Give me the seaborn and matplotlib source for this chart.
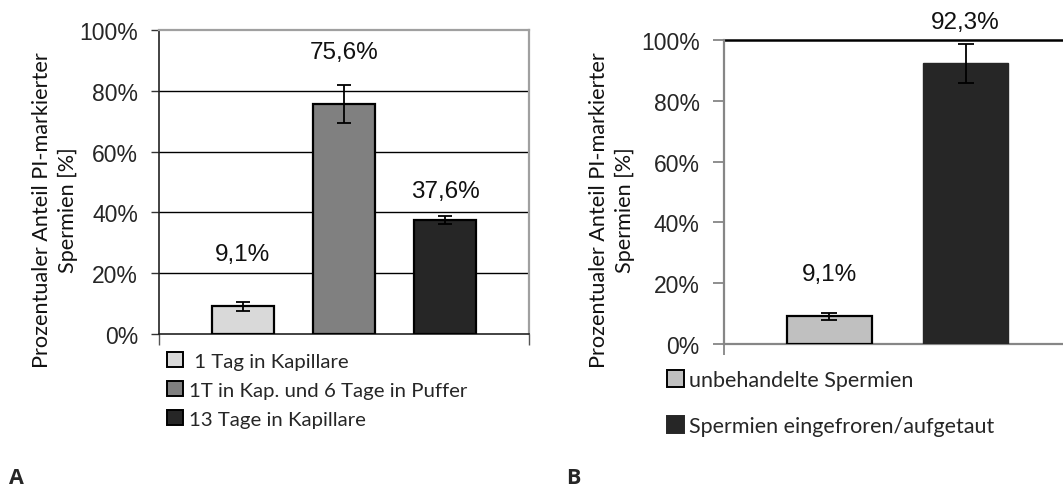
import matplotlib
matplotlib.use("Agg")
import matplotlib.pyplot as plt
import matplotlib.patches as mpatches
import seaborn as sns
import pandas as pd

# Panel A: storage conditions
cats_a = [" 1 Tag in Kapillare", "1T in Kap. und 6 Tage in Puffer", "13 Tage in Kapillare"]
vals_a = [9.1, 75.6, 37.6]
err_a = [1.5, 6.2, 1.3]
colors_a = ["#d9d9d9", "#808080", "#262626"]
lab_a = ["9,1%", "75,6%", "37,6%"]
lab_off_a = [15.3, 15.1, 7.6]

# Panel B: untreated vs. frozen/thawed
cats_b = ["unbehandelte Spermien", "Spermien eingefroren/aufgetaut"]
vals_b = [9.1, 92.3]
err_b = [1.2, 6.4]
colors_b = ["#c0c0c0", "#262626"]
lab_b = ["9,1%", "92,3%"]
lab_off_b = [12.1, 11.5]

yticks = [0, 20, 40, 60, 80, 100]
ylabel = "Prozentualer Anteil PI-markierter\nSpermien [%]"

sns.set_theme(style="white")
plt.rcParams["font.family"] = ["Liberation Sans", "DejaVu Sans"]
LABEL_FONT = ["Lato", "DejaVu Sans"]
W, H = 1063, 489
fig = plt.figure(figsize=(W / 100, H / 100), dpi=100)


def px_axes(l, t, r, b):
    return fig.add_axes([l / W, 1 - b / H, (r - l) / W, (b - t) / H])


def draw_panel(ax, cats, vals, errs, colors, labels, offs, width, gap, capsize):
    df = pd.DataFrame({"grp": ["x"] * len(cats), "cat": cats, "val": vals})
    sns.barplot(data=df, x="grp", y="val", hue="cat", hue_order=cats,
                palette=colors, width=width, gap=gap, errorbar=None,
                legend=False, ax=ax, saturation=1, zorder=3)
    bars = ax.patches[:len(cats)]
    xs = [p.get_x() + p.get_width() / 2 for p in bars]
    ax.errorbar(xs, vals, yerr=errs, fmt="none", ecolor="black",
                elinewidth=1.3, capsize=capsize, capthick=1.3, zorder=4)
    for x, v, e, t, o in zip(xs, vals, errs, labels, offs):
        ax.text(x, v + o, t, ha="center", va="baseline", fontsize=17.5,
                color="#111111", zorder=5, clip_on=False)
    ax.set_xlim(-0.5, 0.5)
    ax.set_ylim(0, 100)
    ax.set_yticks(yticks)
    ax.set_yticklabels([f"{t}%" for t in yticks])
    ax.set_xticks([-0.5, 0.5])
    ax.set_xticklabels(["", ""])
    ax.set_xlabel("")
    return bars


# ---- Panel A ----
ax_a = px_axes(159, 31, 529, 335)
bars_a = draw_panel(ax_a, cats_a, vals_a, err_a, colors_a, lab_a, lab_off_a,
                    0.819, 0.386, 5)
for p in bars_a:
    p.set_edgecolor("black")
    p.set_linewidth(1.6)
for y in [20, 40, 60, 80]:
    ax_a.axhline(y, color="black", lw=1.0, zorder=1)
for s in ["top", "right"]:
    ax_a.spines[s].set_color("#a0a0a0")
    ax_a.spines[s].set_linewidth(1.6)
for s in ["left", "bottom"]:
    ax_a.spines[s].set_color("#222222")
    ax_a.spines[s].set_linewidth(1.2)
ax_a.tick_params(axis="y", direction="out", length=6, width=1, color="#333333",
                 pad=9, labelsize=16.5, left=True)
ax_a.tick_params(axis="x", direction="out", length=8, width=1, color="#555555",
                 bottom=True)

# ---- Panel B ----
ax_b = px_axes(724, 41, 1071, 345)
bars_b = draw_panel(ax_b, cats_b, vals_b, err_b, colors_b, lab_b, lab_off_b,
                    0.784, 0.375, 6)
bars_b[0].set_edgecolor("black")
bars_b[0].set_linewidth(1.6)
bars_b[1].set_edgecolor(colors_b[1])
ax_b.axhline(100, color="black", lw=1.8, zorder=2, clip_on=False)
ax_b.spines["top"].set_visible(False)
ax_b.spines["right"].set_visible(False)
for s in ["left", "bottom"]:
    ax_b.spines[s].set_color("#868686")
    ax_b.spines[s].set_linewidth(1.6)
ax_b.tick_params(axis="y", direction="out", length=8, width=1.3, color="#868686",
                 pad=9.5, labelsize=16.5, left=True)
ax_b.tick_params(axis="x", direction="out", length=8, width=1.3, color="#868686",
                 bottom=True)

# ---- axis titles ----
for ax, cx, cy in [(ax_a, -0.281, 0.411), (ax_b, -0.323, 0.444)]:
    ax.set_ylabel(ylabel, fontsize=15.6, family=LABEL_FONT, linespacing=1.35,
                  color="#111111", multialignment="center")
    ax.yaxis.label.set_va("center")
    ax.yaxis.set_label_coords(cx, cy)

# ---- legends ----
hs_a = [mpatches.Patch(facecolor=c, edgecolor="black", linewidth=1.4) for c in colors_a]
fig.legend(hs_a, cats_a, loc="upper left", bbox_to_anchor=(167 / W, 1 - 353 / H),
           frameon=False, borderpad=0, borderaxespad=0, handlelength=0.78,
           handleheight=0.78, handletextpad=0.3, labelspacing=0.55,
           prop={"family": LABEL_FONT, "size": 14.7})
hs_b = [mpatches.Patch(facecolor=colors_b[0], edgecolor="black", linewidth=1.4),
        mpatches.Patch(facecolor=colors_b[1], edgecolor=colors_b[1], linewidth=1.4)]
fig.legend(hs_b, cats_b, loc="upper left", bbox_to_anchor=(667 / W, 1 - 371 / H),
           frameon=False, borderpad=0, borderaxespad=0, handlelength=0.8,
           handleheight=0.8, handletextpad=0.2, labelspacing=1.2,
           prop={"family": LABEL_FONT, "size": 15.5})

# ---- panel letters ----
LETTER_FONT = ["Open Sans", "DejaVu Sans"]
fig.text(9 / W, 1 - 484 / H, "A", fontsize=15.5, fontweight="bold", family=LETTER_FONT)
fig.text(566 / W, 1 - 484 / H, "B", fontsize=15.5, fontweight="bold", family=LETTER_FONT)

fig.savefig("out.png", dpi=100)
